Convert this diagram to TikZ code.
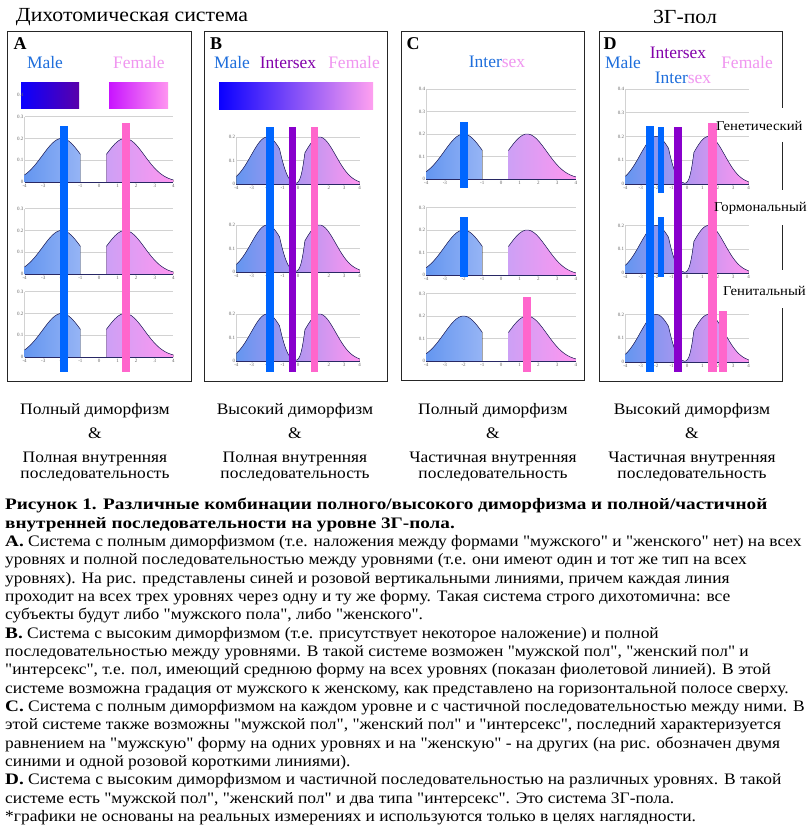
\documentclass[tikz,border=0pt]{standalone}
\usepackage{fontspec}
\setmainfont{Liberation Serif}
\newfontfamily\widefont{Liberation Serif}[FakeStretch=1.09, BoldFeatures={FakeStretch=1.2}]
\usepackage{xcolor}
\usetikzlibrary{positioning}

\definecolor{barblue}{RGB}{0,102,255}
\definecolor{barpink}{RGB}{255,102,204}
\definecolor{barviolet}{RGB}{136,0,204}
\definecolor{maletxt}{RGB}{30,110,220}
\definecolor{femtxt}{RGB}{240,150,240}
\definecolor{intertxt}{RGB}{130,0,170}
\definecolor{malefill}{RGB}{100,150,240}
\definecolor{malefade}{RGB}{150,180,245}
\definecolor{midfill}{RGB}{195,170,245}
\definecolor{femfade}{RGB}{205,160,245}
\definecolor{femfill}{RGB}{255,150,240}
\definecolor{curvecol}{RGB}{40,40,100}
\definecolor{gridcol}{RGB}{210,210,210}

% curves, in data units (x from -4 to 4, y density)
\newcommand{\sepcurves}{%
  \fill[left color=malefill, right color=malefade] (-4,0) -- plot[domain=-4:-1,samples=25] (\x,{mdens(\x)}) -- (-1,0) -- cycle;
  \fill[left color=femfade, middle color=femfill, right color=femfill] (0.4,0) -- plot[domain=0.4:4,samples=25] (\x,{fdens(\x)}) -- (4,0) -- cycle;
  \draw[curve] plot[domain=-4:-1,samples=25] (\x,{mdens(\x)});
  \draw[curve] plot[domain=0.4:4,samples=25] (\x,{fdens(\x)});
}
\newcommand{\overlapcurves}{%
  \fill[left color=malefill, middle color=midfill, right color=femfill] (-4,0)
    -- plot[domain=-4:-1.2,samples=25] (\x,{mdens(\x)})
    .. controls (-0.8,0.03) and (-0.5,0.003) .. (-0.15,0.003)
    .. controls (0.15,0.003) and (0.28,0.05) .. (0.45,0.133)
    -- plot[domain=0.45:4,samples=25] (\x,{fdens(\x)}) -- (4,0) -- cycle;
  \draw[curve] plot[domain=-4:-1.2,samples=25] (\x,{mdens(\x)})
    .. controls (-0.8,0.03) and (-0.5,0.003) .. (-0.15,0.003)
    .. controls (0.15,0.003) and (0.28,0.05) .. (0.45,0.133)
    -- plot[domain=0.45:4,samples=25] (\x,{fdens(\x)});
}
% #1 grid values, #2 axis labels, #3 name prefix, #4 curves
\newcommand{\distplot}[4]{%
  \foreach \g in {#1} \draw[gridline] (-4,0) -- (-4,\g) (-4,\g) -- (4,\g);
  #4
  \draw[axisline] (-4,0) -- (4,0);
  \foreach \g [count=\k] in {#2} \node[ylbl] (#3y\k) at (-4,\g) {\g};
  \foreach \t [count=\k] in {-4,...,4} \node[xlbl] (#3x\k) at (\t,0) {\t};
}

\begin{document}
\begin{tikzpicture}[x=1pt, y=-1pt,
    declare function={mdens(\u)=0.2*exp(-(\u+2)*(\u+2)/2.2); fdens(\u)=0.2*exp(-(\u-1.4)*(\u-1.4)/2.2);},
    panelframe/.style={draw=black!85, line width=0.9pt},
    paneltag/.style={font=\fontsize{18}{18}\selectfont\bfseries, inner sep=0pt},
    sexlbl/.style={font=\fontsize{17.5}{18}\selectfont, inner sep=0pt},
    levellbl/.style={font=\widefont\fontsize{13.5}{14}\selectfont, inner sep=1pt},
    capt/.style={align=center, font=\widefont\fontsize{16}{16}\selectfont},
    toplbl/.style={font=\widefont\fontsize{20}{20}\selectfont, inner sep=0pt},
    curve/.style={draw=curvecol, line width=0.5pt},
    gridline/.style={draw=gridcol, line width=0.4pt},
    axisline/.style={draw=curvecol, line width=0.7pt},
    ylbl/.style={font=\fontsize{5}{5}\selectfont, text=black!60, anchor=east, inner sep=1pt},
    xlbl/.style={font=\fontsize{5}{5}\selectfont, text=black!60, anchor=north, inner sep=2pt},
    bluebar/.style={fill=barblue},
    pinkbar/.style={fill=barpink},
    violetbar/.style={fill=barviolet}
  ]
  \useasboundingbox (0,0) rectangle (806,826);
  \fill[white] (0,0) rectangle (806,826);

  \node[toplbl] (dichot) at (132,17) {Дихотомическая система};
  \node[toplbl] (threeg) at (685,17) {3Г-пол};

  % frames
  \draw[panelframe] (7,31) rectangle (191,381);
  \draw[panelframe] (204,31) rectangle (387,381);
  \draw[panelframe] (401,31) rectangle (584,380);
  \draw[panelframe] (782,108) |- (599,31) |- (782,381) -- (782,308)
    (782,142) -- (782,190) (782,225) -- (782,270);

  \node[paneltag] (tagA) at (20,44) {A};
  \node[paneltag] (tagB) at (216,44) {B};
  \node[paneltag] (tagC) at (413,44) {C};
  \node[paneltag] (tagD) at (610,44) {D};

  % panel A
  \node[sexlbl, text=maletxt] (maleA) at (45,63) {Male};
  \node[sexlbl, text=femtxt] (femA) at (139,63) {Female};
  \shade[left color={rgb,255:red,10;green,0;blue,255}, right color={rgb,255:red,90;green,0;blue,170}] (21,83) rectangle (79,109);
  \shade[left color={rgb,255:red,200;green,20;blue,255}, right color=femfill] (109,83) rectangle (168,109);
  \begin{scope}[shift={(99,182)}, x=18.6pt, y=218pt]
    \distplot{0.1,0.2,0.3}{0,0.1,0.2,0.3,0.4}{Ar1}{\sepcurves}
  \end{scope}
  \begin{scope}[shift={(99,274)}, x=18.6pt, y=218pt]
    \distplot{0.1,0.2,0.3}{0,0.1,0.2,0.3}{Ar2}{\sepcurves}
  \end{scope}
  \begin{scope}[shift={(99,357)}, x=18.6pt, y=218pt]
    \distplot{0.1,0.2,0.3}{0,0.1,0.2,0.3}{Ar3}{\sepcurves}
  \end{scope}
  \path[bluebar] (60,126) rectangle (68,372);
  \path[pinkbar] (122,123) rectangle (130,372);

  % panel B
  \node[sexlbl, text=maletxt] (maleB) at (232,63) {Male};
  \node[sexlbl, text=intertxt] (interB) at (288,63) {Intersex};
  \node[sexlbl, text=femtxt] (femB) at (354,63) {Female};
  \shade[left color={rgb,255:red,10;green,0;blue,255}, middle color={rgb,255:red,190;green,120;blue,255}, right color={rgb,255:red,255;green,160;blue,240}] (219,83) rectangle (373,110);
  \begin{scope}[shift={(298,184)}, x=15.4pt, y=235pt]
    \distplot{0.1,0.2}{0,0.1,0.2}{Br1}{\overlapcurves}
  \end{scope}
  \begin{scope}[shift={(298,272)}, x=15.4pt, y=235pt]
    \distplot{0.1,0.2}{0,0.1,0.2}{Br2}{\overlapcurves}
  \end{scope}
  \begin{scope}[shift={(298,361)}, x=15.4pt, y=235pt]
    \distplot{0.1,0.2}{0,0.1,0.2}{Br3}{\overlapcurves}
  \end{scope}
  \path[bluebar] (266,127) rectangle (274,372);
  \path[violetbar] (289,127) rectangle (296,372);
  \path[pinkbar] (311,127) rectangle (318,372);

  % panel C
  \node[sexlbl] (interC) at (497,62) {{\color{maletxt}Inter}{\color{femtxt}sex}};
  \begin{scope}[shift={(501,179)}, x=18.7pt, y=225pt]
    \distplot{0.1,0.2,0.3,0.4}{0,0.1,0.2,0.3,0.4}{Cr1}{\sepcurves}
  \end{scope}
  \begin{scope}[shift={(501,275)}, x=18.7pt, y=225pt]
    \distplot{0.1,0.2,0.3}{0,0.1,0.2,0.3}{Cr2}{\sepcurves}
  \end{scope}
  \begin{scope}[shift={(501,361)}, x=18.7pt, y=225pt]
    \distplot{0.1,0.2,0.3}{0,0.1,0.2,0.3}{Cr3}{\sepcurves}
  \end{scope}
  \path[bluebar] (460,122) rectangle (468,188);
  \path[bluebar] (460,217) rectangle (468,277);
  \path[pinkbar] (523,297) rectangle (531,372);

  % panel D
  \node[sexlbl, text=maletxt] (maleD) at (623,63) {Male};
  \node[sexlbl, text=intertxt] (interD) at (678,53) {Intersex};
  \node[sexlbl] (interDD) at (683,78) {{\color{maletxt}Inter}{\color{femtxt}sex}};
  \node[sexlbl, text=femtxt] (femD) at (747,63) {Female};
  \begin{scope}[shift={(687,184)}, x=15.4pt, y=238pt]
    \distplot{0.1,0.2,0.3,0.4}{0,0.1,0.2,0.3,0.4}{Dr1}{\overlapcurves}
  \end{scope}
  \begin{scope}[shift={(687,273)}, x=15.4pt, y=238pt]
    \distplot{0.1,0.2}{0,0.1,0.2}{Dr2}{\overlapcurves}
  \end{scope}
  \begin{scope}[shift={(687,362)}, x=15.4pt, y=238pt]
    \distplot{0.1,0.2}{0,0.1,0.2}{Dr3}{\overlapcurves}
  \end{scope}
  \path[bluebar] (646,126) rectangle (654,372);
  \path[bluebar] (658,127) rectangle (664,193);
  \path[bluebar] (658,217) rectangle (664,277);
  \path[violetbar] (674,127) rectangle (682,372);
  \path[pinkbar] (708,123) rectangle (717,372);
  \path[pinkbar] (719,311) rectangle (727,372);
  \node[levellbl, anchor=west] (lvlgen) at (715,126) {Генетический};
  \node[levellbl, anchor=west] (lvlhorm) at (713,208) {Гормональный};
  \node[levellbl, anchor=west] (lvlgenit) at (722,291) {Генитальный};

  % captions
  \node[capt] (captA) at (95,442) {Полный диморфизм\\[8pt]\&\\[8pt]Полная внутренняя\\последовательность};
  \node[capt] (captB) at (295,442) {Высокий диморфизм\\[8pt]\&\\[8pt]Полная внутренняя\\последовательность};
  \node[capt] (captC) at (493,442) {Полный диморфизм\\[8pt]\&\\[8pt]Частичная внутренняя\\последовательность};
  \node[capt] (captD) at (692,442) {Высокий диморфизм\\[8pt]\&\\[8pt]Частичная внутренняя\\последовательность};

  % figure legend
  \node[anchor=north west, align=left, inner sep=0pt, font=\widefont\fontsize{16}{18.35}\selectfont] (legend) at (5,498) {%
    \textbf{Рисунок 1. Различные комбинации полного/высокого диморфизма и полной/частичной}\\
    \textbf{внутренней последовательности на уровне 3Г-пола.}\\
    \textbf{A.} Система с полным диморфизмом (т.е. наложения между формами "мужского" и "женского" нет) на всех\\
    уровнях и полной последовательностью между уровнями (т.е. они имеют один и тот же тип на всех\\
    уровнях). На рис. представлены синей и розовой вертикальными линиями, причем каждая линия\\
    проходит на всех трех уровнях через одну и ту же форму. Такая система строго дихотомична: все\\
    субъекты будут либо "мужского пола", либо "женского".\\
    \textbf{B.} Система с высоким диморфизмом (т.е. присутствует некоторое наложение) и полной\\
    последовательностью между уровнями. В такой системе возможен "мужской пол", "женский пол" и\\
    "интерсекс", т.е. пол, имеющий среднюю форму на всех уровнях (показан фиолетовой линией). В этой\\
    системе возможна градация от мужского к женскому, как представлено на горизонтальной полосе сверху.\\
    \textbf{C.} Система с полным диморфизмом на каждом уровне и с частичной последовательностью между ними. В\\
    этой системе также возможны "мужской пол", "женский пол" и "интерсекс", последний характеризуется\\
    равнением на "мужскую" форму на одних уровнях и на "женскую" - на других (на рис. обозначен двумя\\
    синими и одной розовой короткими линиями).\\
    \textbf{D.} Система с высоким диморфизмом и частичной последовательностью на различных уровнях. В такой\\
    системе есть "мужской пол", "женский пол" и два типа "интерсекс". Это система 3Г-пола.\\
    *графики не основаны на реальных измерениях и используются только в целях наглядности.};
\end{tikzpicture}
\end{document}
